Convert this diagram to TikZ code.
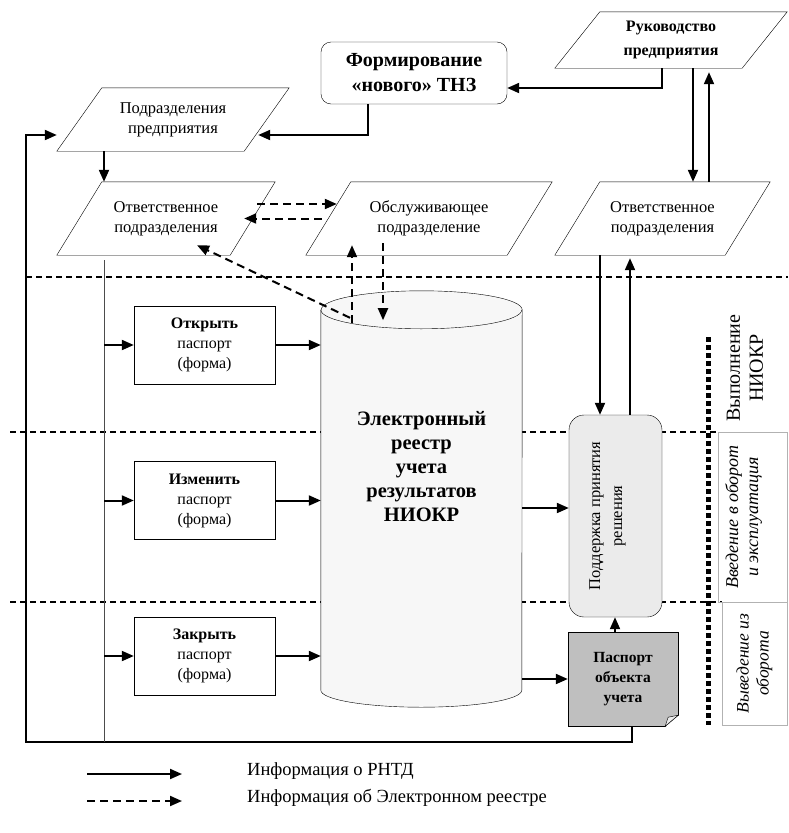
\documentclass[tikz,border=0pt]{standalone}
\usepackage{fontspec}
\setmainfont{Liberation Serif}[Ligatures=TeX]
\usetikzlibrary{arrows.meta,calc}

\begin{document}
\begin{tikzpicture}[x=1pt, y=1pt,
  txt/.style={font=\fontsize{16}{20}\selectfont, align=center, inner sep=0},
  para/.style={txt, font=\fontsize{16.5}{20}\selectfont, minimum height=73},
  fbox/.style={txt, draw, minimum width=141, minimum height=78},
  arr/.style={-{Triangle[length=12pt,width=10pt]}, line width=2pt},
  darr/.style={arr, dash pattern=on 8pt off 5pt},
  sep/.style={line width=1.2pt, dash pattern=on 6pt off 4pt},
  phase/.style={rotate=90, align=center, inner sep=0}
]
\useasboundingbox (0,0) rectangle (788,-833);
\fill[white] (0,0) rectangle (788,-833);

% separators between phases
\draw[sep] (26,-277) -- (788,-277);
\draw[sep] (10,-432) -- (718,-432);
\draw[sep] (10,-602) -- (722,-602);

% top: subdivisions and management
\node[para, font=\bfseries\fontsize{16}{24}\selectfont, minimum width=232, minimum height=56] (rukov) at (671,-40) {Руководство\\предприятия};
\node[txt, draw, rounded corners=10pt, font=\bfseries\fontsize{20}{25}\selectfont, minimum width=186, minimum height=62] (form) at (414,-73) {Формирование\\«нового» ТНЗ};
\node[para, minimum width=232, minimum height=63] (podr) at (173,-119.5) {Подразделения\\предприятия};
\node[para, minimum width=218] (otvL) at (166,-218.5) {Ответственное\\подразделения};
\node[para, minimum width=246] (obsl) at (429,-218.5) {Обслуживающее\\подразделение};
\node[para, minimum width=215] (otvR) at (662.5,-218.5) {Ответственное\\подразделения};
\foreach \n in {rukov,podr,otvL,obsl,otvR}
  \draw (\n.south west) -- ([xshift=45pt]\n.north west) -- (\n.north east) -- ([xshift=-45pt]\n.south east) -- cycle;

% passport forms
\node[fbox] (open) at (204.5,-345) {\textbf{Открыть}\\паспорт\\(форма)};
\node[fbox] (edit) at (204.5,-500.5) {\textbf{Изменить}\\паспорт\\(форма)};
\node[fbox] (close) at (204.5,-656) {\textbf{Закрыть}\\паспорт\\(форма)};

% register (cylinder)
\node[minimum width=201, minimum height=416, inner sep=0] (reg) at (421.5,-499) {};
\draw[fill=gray!6] ([yshift=-19pt]reg.north west) -- ([yshift=17pt]reg.south west)
  arc[start angle=180, end angle=360, x radius=100.5, y radius=17]
  -- ([yshift=-19pt]reg.north east)
  arc[start angle=0, end angle=180, x radius=100.5, y radius=19] -- cycle;
\draw ([yshift=-19pt]reg.north west) arc[start angle=180, end angle=360, x radius=100.5, y radius=19];
\node[txt, font=\bfseries\fontsize{20.5}{24}\selectfont] (regtxt) at ([yshift=32pt]reg.center) {Электронный\\реестр\\ учета\\результатов\\НИОКР};

% decision support and passport
\node[draw, fill=gray!16, rounded corners=15pt, minimum width=93, minimum height=202, inner sep=0] (podd) at (615.5,-516) {};
\node[txt, phase, font=\fontsize{16.5}{22}\selectfont] (poddtxt) at ([xshift=-8pt]podd.center) {Поддержка принятия\\решения};
\node[txt, draw, fill=gray!50, font=\bfseries\fontsize{15.5}{20}\selectfont, minimum width=110, minimum height=94] (pasp) at (623,-679) {Паспорт\\объекта\\учета};
\fill[white] ([shift={(1,11)}]pasp.south east) -- ([shift={(1,-1)}]pasp.south east) -- ([shift={(-13,-1)}]pasp.south east) -- cycle;
\draw ([yshift=11pt]pasp.south east) -- ([xshift=-13pt]pasp.south east);
\draw[fill=gray!15] ([yshift=11pt]pasp.south east) -- ([shift={(-10,9)}]pasp.south east) -- ([xshift=-13pt]pasp.south east) -- cycle;

% phases
\node[phase, font=\fontsize{20}{23}\selectfont] (ph1) at (745,-368) {Выполнение\\НИОКР};
\node[draw=gray!60, minimum width=69, minimum height=170, inner sep=0] (ph2box) at (752.5,-517) {};
\node[phase, font=\itshape\fontsize{18}{20}\selectfont] (ph2) at ([xshift=-9pt]ph2box.center) {Введение в оборот\\и эксплуатация};
\node[draw=gray!60, minimum width=65, minimum height=123, inner sep=0] (ph3box) at (754.5,-663.5) {};
\node[phase, font=\itshape\fontsize{17.5}{20}\selectfont] (ph3) at (ph3box.center) {Выведение из\\оборота};
\draw[line width=5pt, dash pattern=on 5pt off 3pt] (708,-337) -- (708,-725);

% information on results
\draw[arr] ([xshift=-9pt]rukov.south) |- ([yshift=-15pt]form.east);
\draw[arr] ([xshift=-46pt]form.south) |- ([shift={(-31,-15.5)}]podr.east);
\draw[arr] ([xshift=-69pt]podr.south) -- ([xshift=-69pt]podr.south |- otvL.north);
\coordinate (loop) at (26,-742);
\draw[arr] ([xshift=9pt]pasp.south) |- (loop) |- ([yshift=-15.5pt]podr.west);
\coordinate (spineT) at (104,-260);
\draw[gray!60!black] (spineT) -- (spineT |- loop);
\foreach \b in {open,edit,close} {
  \draw[arr] (\b.west -| spineT) -- (\b.west);
  \draw[arr] (\b.east) -- (\b.east -| reg.west);
}
\coordinate (pw) at ([yshift=8pt]podd.west);
\draw[arr] (pw -| reg.east) -- (pw);
\draw[arr] (pasp.west -| reg.east) -- (pasp.west);
\draw[arr] ([xshift=-8pt]pasp.north) -- ([xshift=-8pt]pasp.north |- podd.south);
\draw[arr] ([xshift=-62.5pt]otvR.south) -- ([xshift=-62.5pt]otvR.south |- podd.north);
\draw[arr] ([xshift=-32.5pt]otvR.south |- podd.north) -- ([shift={(-32.5,-3)}]otvR.south);
\draw[arr] ([xshift=22pt]rukov.south) -- ([xshift=22pt]rukov.south |- otvR.north);
\draw[arr] ([xshift=38pt]rukov.south |- otvR.north) -- ([shift={(38,-4)}]rukov.south);

% information on the register
\draw[darr] ([shift={(-18,14.5)}]otvL.east) -- ([shift={(31,14.5)}]obsl.west);
\draw[darr] ([xshift=16pt]obsl.west) -- ([xshift=-31pt]otvL.east);
\draw[darr] ([shift={(-71.5,-27)}]reg.north) -- ([shift={(31,10)}]otvL.south);
\draw[darr] ([shift={(-77,-68)}]obsl.south) -- ([shift={(-77,10)}]obsl.south);
\draw[darr] ([shift={(-46,12)}]obsl.south) -- ([shift={(-46,-65)}]obsl.south);

% legend
\node[txt, font=\fontsize{18.5}{22}\selectfont, anchor=west] (leg1) at (247,-771) {Информация о РНТД};
\node[txt, font=\fontsize{18.5}{22}\selectfont, anchor=west] (leg2) at (247,-798) {Информация об Электронном реестре};
\draw[arr] ([shift={(-160,-3)}]leg1.west) -- ([shift={(-65,-3)}]leg1.west);
\draw[darr] ([shift={(-160,-3)}]leg2.west) -- ([shift={(-65,-3)}]leg2.west);
\end{tikzpicture}
\end{document}
